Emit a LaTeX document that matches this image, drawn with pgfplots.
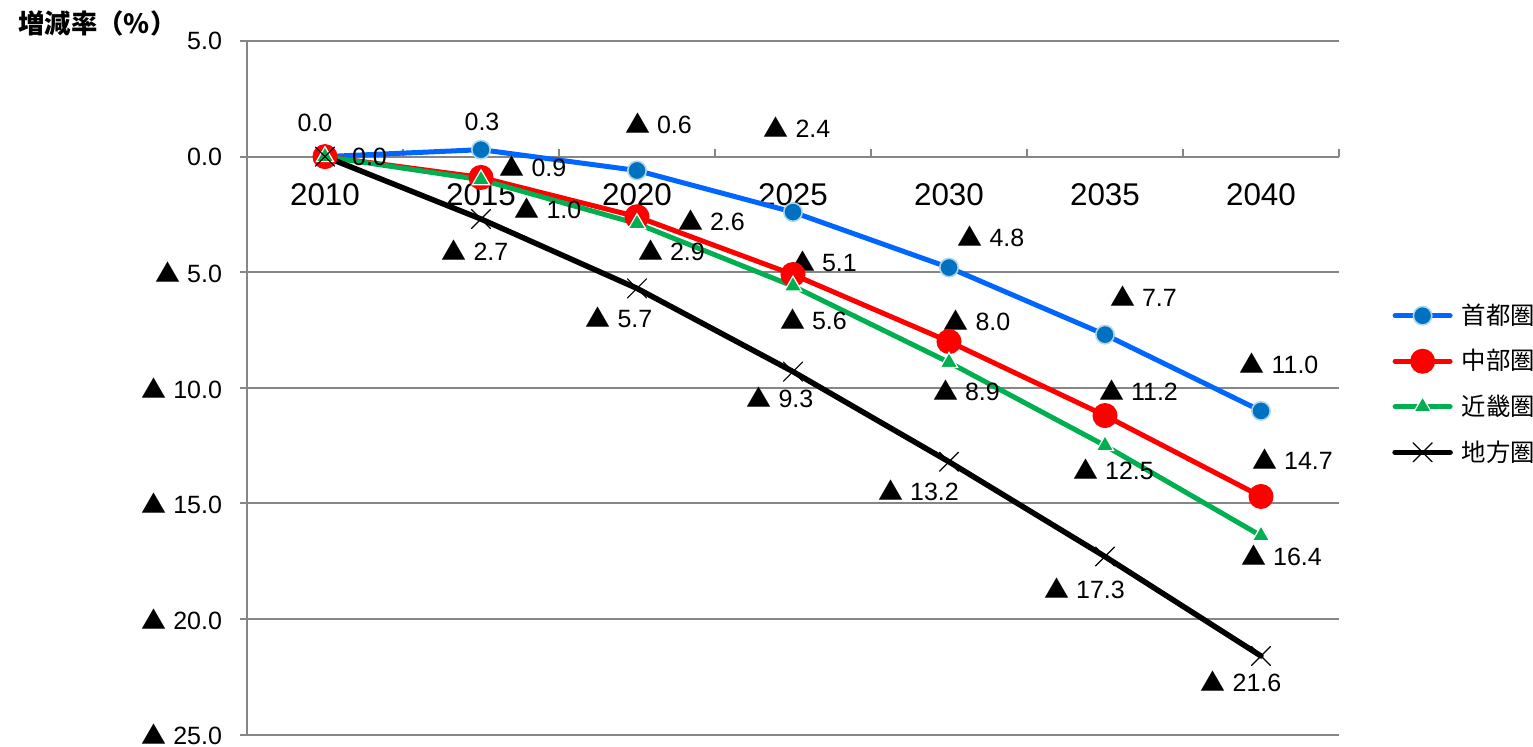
\documentclass[border=0pt]{standalone}
\usepackage{fontspec}
\setmainfont{Liberation Sans}
\newfontfamily\cjk{Noto Sans CJK JP}
\usepackage{pgfplots}
\pgfplotsset{compat=1.18}

\definecolor{gridgray}{RGB}{134,134,134}
\definecolor{shutoline}{RGB}{0,102,255}
\definecolor{shutofill}{RGB}{0,112,192}
\definecolor{shutoedge}{RGB}{170,215,235}
\definecolor{chubu}{RGB}{255,0,0}
\definecolor{kinki}{RGB}{0,176,80}

% black triangle used for negative values
\newcommand{\tri}{{\cjk ▲}}
\newcommand{\dl}[1]{\tri\ #1}
% value label: x, y, xshift, yshift, text
\tikzset{lab/.style={font=\fontsize{12.5}{15}\selectfont, inner sep=0pt, anchor=base, yshift=-4.5pt}}
\newcommand{\lab}[5]{\node[lab, xshift=#3pt, yshift=#4pt] at (axis cs:#1,#2) {#5};}

\begin{document}
\begin{tikzpicture}
\useasboundingbox (-123.5pt,-5.7pt) rectangle (643pt,367.3pt);
\begin{axis}[
  at={(0pt,0pt)}, anchor=south west,
  scale only axis, width=546pt, height=346.8pt,
  xmin=-0.5, xmax=6.5, ymin=-25, ymax=5,
  axis x line=middle, axis y line=left,
  axis line style={gridgray, line width=1pt, -},
  hide obscured x ticks=false, hide obscured y ticks=false,
  xtick={-0.5,0.5,...,6.5},
  x tick label as interval,
  xticklabels={2010,2015,2020,2025,2030,2035,2040},
  ytick={-25,-20,...,5},
  yticklabels={\dl{25.0},\dl{20.0},\dl{15.0},\dl{10.0},\dl{5.0},0.0,5.0},
  tick align=inside, major tick length=4pt,
  tick style={gridgray, line width=1pt},
  y tick style={xshift=-3.5pt},
  ymajorgrids, grid style={gridgray, line width=1pt},
  yticklabel style={font=\fontsize{12.5}{15}\selectfont, anchor=east, xshift=-9pt},
  xticklabel style={font=\fontsize{15.7}{18}\selectfont, anchor=center, yshift=-19pt},
  clip=false,
  legend style={at={(1.0485,0.5055)}, anchor=west, draw=none, fill=none, inner sep=0pt,
    font=\cjk\fontsize{12.2}{14}\selectfont, row sep=7pt,
    /tikz/every even column/.append style={column sep=0pt},
    /tikz/every odd column/.append style={column sep=2.5pt}},
  legend cell align=left,
  legend image code/.code={\draw[mark repeat=2, mark phase=2, #1]
    plot coordinates {(0pt,0pt) (13.75pt,0pt) (27.5pt,0pt)};},
]
% 首都圏
\addplot[shutoline, line width=2.5pt, line cap=round, mark=*, mark size=4.6pt,
  mark options={fill=shutofill, draw=shutoedge, line width=0.8pt}]
  coordinates {(0,0) (1,0.3) (2,-0.6) (3,-2.4) (4,-4.8) (5,-7.7) (6,-11.0)};
\addlegendentry{首都圏}
% 中部圏
\addplot[chubu, line width=2.5pt, line cap=round, mark=*, mark size=6pt,
  mark options={fill=chubu, draw=chubu, line width=0.5pt}]
  coordinates {(0,0) (1,-0.9) (2,-2.6) (3,-5.1) (4,-8.0) (5,-11.2) (6,-14.7)};
\addlegendentry{中部圏}
% 近畿圏
\addplot[kinki, line width=2.5pt, line cap=round, mark=triangle*, mark size=5pt,
  mark options={fill=kinki, draw=white, line width=0.6pt}]
  coordinates {(0,0) (1,-1.0) (2,-2.9) (3,-5.6) (4,-8.9) (5,-12.5) (6,-16.4)};
\addlegendentry{近畿圏}
% 地方圏
\addplot[black, line width=2.75pt, line cap=round, mark=x, mark size=6.7pt,
  mark options={line width=0.6pt}]
  coordinates {(0,0) (1,-2.7) (2,-5.7) (3,-9.3) (4,-13.2) (5,-17.3) (6,-21.6)};
\addlegendentry{地方圏}

% value labels
\lab{0}{0}{-5}{16.9}{0.0}
\lab{1}{0.3}{0.5}{13.9}{0.3}
\lab{2}{-0.6}{10.75}{22.8}{\dl{0.6}}
\lab{3}{-2.4}{2}{41.6}{\dl{2.4}}
\lab{4}{-4.8}{21}{14.85}{\dl{4.8}}
\lab{5}{-7.7}{19.25}{18.35}{\dl{7.7}}
\lab{6}{-11.0}{9}{23}{\dl{11.0}}

\lab{0}{0}{22.25}{-0.15}{0.0}
\lab{1}{-0.9}{26}{4.75}{\dl{0.9}}
\lab{2}{-2.6}{37.25}{-2.6}{\dl{2.6}}
\lab{3}{-5.1}{15.25}{5.8}{\dl{5.1}}
\lab{4}{-8.0}{14}{9.85}{\dl{8.0}}
\lab{5}{-11.2}{16.75}{11.8}{\dl{11.2}}
\lab{6}{-14.7}{15.75}{17.8}{\dl{14.7}}

\lab{1}{-1.0}{33.5}{-15.1}{\dl{1.0}}
\lab{2}{-2.9}{17.25}{-14.15}{\dl{2.9}}
\lab{3}{-5.6}{10.25}{-17.4}{\dl{5.6}}
\lab{4}{-8.9}{8.75}{-14.75}{\dl{8.9}}
\lab{5}{-12.5}{4.25}{-12.65}{\dl{12.5}}
\lab{6}{-16.4}{10.25}{-10.55}{\dl{16.4}}

\lab{1}{-2.7}{-3}{-16.45}{\dl{2.7}}
\lab{2}{-5.7}{-9}{-15.25}{\dl{5.7}}
\lab{3}{-9.3}{-6.5}{-13.65}{\dl{9.3}}
\lab{4}{-13.2}{-15.25}{-15.05}{\dl{13.2}}
\lab{5}{-17.3}{-10.25}{-16.65}{\dl{17.3}}
\lab{6}{-21.6}{-10}{-13.45}{\dl{21.6}}

% axis title
\node[anchor=west, inner sep=0pt, font=\cjk\bfseries\fontsize{13.2}{15}\selectfont]
  at ([xshift=-114.5pt, yshift=8.75pt] rel axis cs:0,1) {増減率（\%）};
\end{axis}
\end{tikzpicture}
\end{document}
